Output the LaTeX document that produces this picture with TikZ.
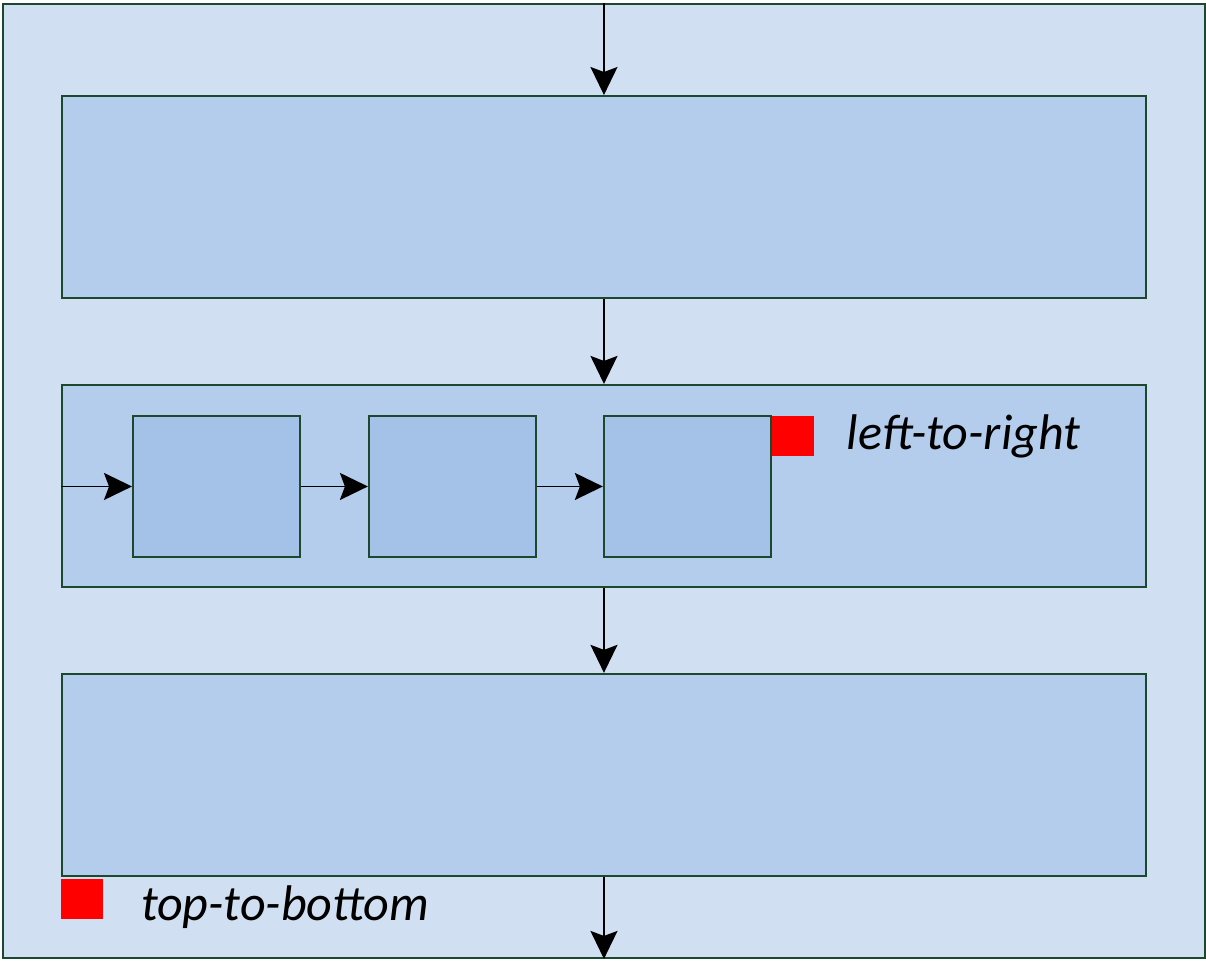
\documentclass[tikz,border=0pt]{standalone}
\usepackage{xcolor}
\usepackage{tikz}
\usepackage{fontspec}
\setmainfont{Carlito}
\usetikzlibrary{arrows.meta, positioning, calc}
\definecolor{framegreen}{RGB}{28, 72, 46}
\definecolor{outerblue}{RGB}{208, 224, 242}
\definecolor{stageblue}{RGB}{180, 205, 236}
\definecolor{stepblue}{RGB}{164, 194, 232}
\definecolor{flagred}{RGB}{255, 0, 0}

\tikzset{
    stage/.style={draw=framegreen, fill=stageblue, line width=1.1pt, minimum width=21.68cm,
          minimum height=4.04cm, inner sep=0pt},
    stepbox/.style={draw=framegreen, fill=stepblue, line width=1.1pt, minimum width=3.34cm,
          minimum height=2.82cm, inner sep=0pt},
    flag/.style={fill=flagred, minimum width=0.84cm, minimum height=0.8cm, inner sep=0pt},
    flow/.style={-{Stealth[length=0.56cm, width=0.54cm, inset=0.1cm]}, line width=1.1pt},
    caption/.style={font=\fontsize{28.5}{32}\selectfont\itshape, inner sep=0pt}
}

\begin{document}
\begin{tikzpicture}
    \useasboundingbox (0,0) rectangle (24.12,-19.22);
    % outer frame
    \node[draw=framegreen, fill=outerblue, line width=1.1pt, minimum width=24.04cm,
          minimum height=19.08cm, inner sep=0pt, anchor=north west] (outer) at (0.04,-0.06) {};

    % three stages, top to bottom
    \node[stage, anchor=north west] (stageA) at (1.22,-1.9) {};
    \node[stage, below=1.7cm of stageA] (stageB) {};
    \node[stage, below=1.7cm of stageB] (stageC) {};

    % steps inside the middle stage, left to right
    \node[stepbox, anchor=north west] (stepA) at (2.64,-8.3) {};
    \node[stepbox, right=1.34cm of stepA] (stepB) {};
    \node[stepbox, right=1.32cm of stepB] (stepC) {};

    \node[flag, anchor=north west] (flagLR) at ($(stepC.north east)+(0,-0.02)$) {};
    \node[caption, right=0.64cm of flagLR] (textLR) {left-to-right};

    \node[flag, anchor=north west] (flagTB) at ($(stageC.south west)+(0,-0.04)$) {};
    \node[caption, right=0.74cm of flagTB, yshift=-0.16cm] (textTB) {top-to-bottom};

    % vertical flow
    \draw[flow] (outer.north -| stageA.north) -- (stageA.north);
    \draw[flow] (stageA.south) -- (stageB.north);
    \draw[flow] (stageB.south) -- (stageC.north);
    \draw[flow] (stageC.south) -- (outer.south -| stageC.south);

    % horizontal flow
    \draw[flow] (stageB.west |- stepA.west) -- (stepA.west);
    \draw[flow] (stepA.east) -- (stepB.west);
    \draw[flow] (stepB.east) -- (stepC.west);
\end{tikzpicture}
\end{document}
